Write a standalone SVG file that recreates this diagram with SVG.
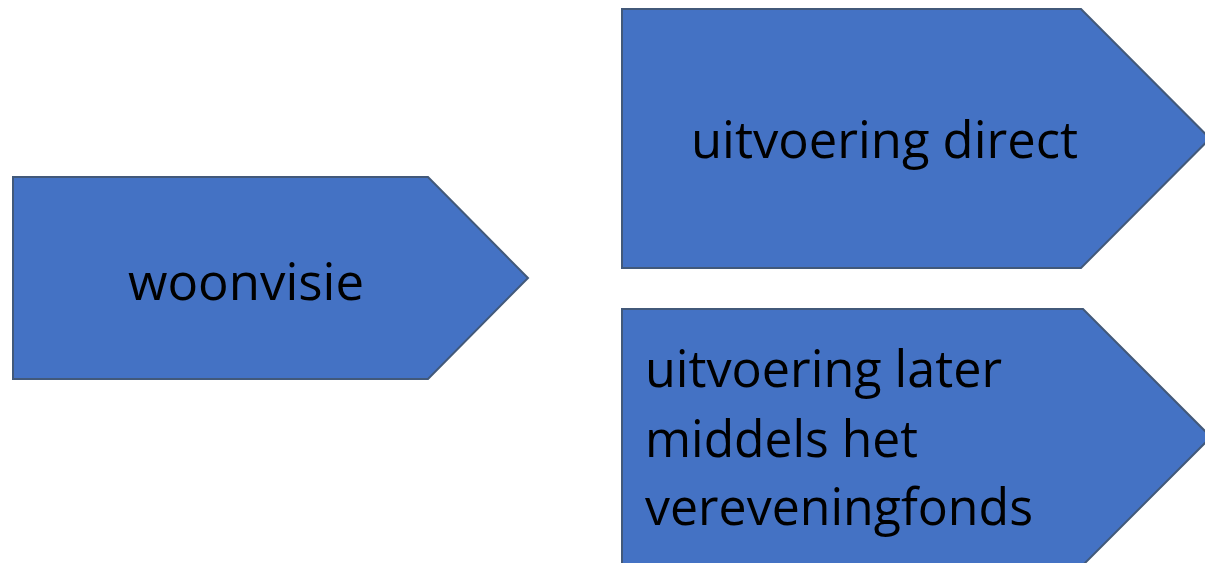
<svg xmlns="http://www.w3.org/2000/svg" width="1205" height="563" viewBox="0 0 1205 563">
<style>
.shape{fill:#4472C4;stroke:#42597A;stroke-width:2;stroke-linejoin:miter}
.lbl{font-family:"Open Sans","Liberation Sans",sans-serif;font-size:52px;fill:#000}
</style>
<rect width="1205" height="563" fill="#fff"/>
<g id="woonvisie">
<polygon class="shape" points="13,177 428,177 528,278 428,379 13,379"/>
<text class="lbl" x="128" y="300" textLength="236" lengthAdjust="spacingAndGlyphs">woonvisie</text>
</g>
<g id="uitvoering-direct">
<polygon class="shape" points="622,9 1081,9 1210,138.5 1081,268 622,268"/>
<text class="lbl" x="691" y="158" textLength="387" lengthAdjust="spacingAndGlyphs">uitvoering direct</text>
</g>
<g id="uitvoering-later">
<polygon class="shape" points="622,309 1083,309 1211,437 1083,565 622,565"/>
<text class="lbl" x="645" y="387" textLength="357" lengthAdjust="spacingAndGlyphs">uitvoering later</text>
<text class="lbl" x="645" y="457" textLength="273" lengthAdjust="spacingAndGlyphs">middels het</text>
<text class="lbl" x="645" y="525" textLength="388" lengthAdjust="spacingAndGlyphs">vereveningfonds</text>
</g>
<g id="connectors"></g>
</svg>
